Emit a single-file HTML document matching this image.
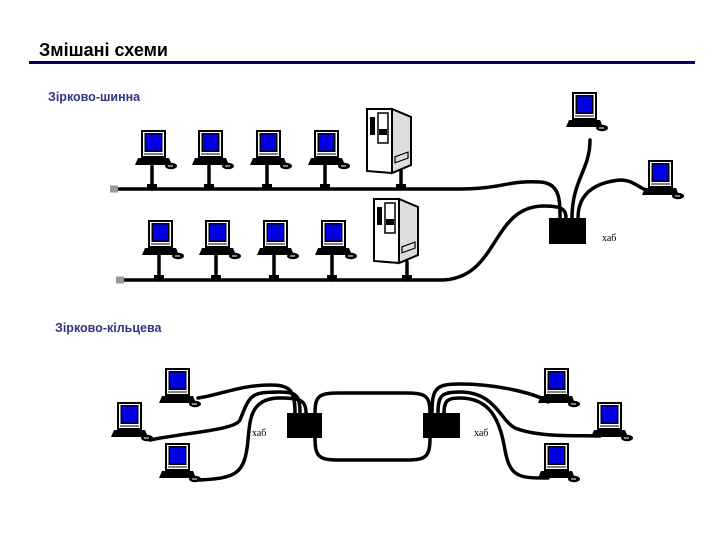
<!DOCTYPE html>
<html><head><meta charset="utf-8"><style>
body{margin:0;background:#fff}
svg{display:block}
</style></head><body>
<svg width="720" height="540" viewBox="0 0 720 540" xmlns="http://www.w3.org/2000/svg">
<defs>
<g id="pc">
<rect x="0" y="0" width="25" height="28" fill="#000"/>
<rect x="2" y="2" width="21" height="24" fill="#fff"/>
<rect x="3.5" y="3" width="18" height="19" fill="#000"/>
<rect x="5" y="4.5" width="15" height="16" fill="#0000e0"/>
<line x1="3" y1="24" x2="22" y2="24" stroke="#000" stroke-width="1"/>
<polygon points="-3,28 28,28 31,35 -6,35" fill="#000"/>
<ellipse cx="30" cy="36" rx="6" ry="3.2" fill="#000"/>
<path d="M27 36 h5" stroke="#fff" stroke-width="1"/>
</g>
<g id="srv">
<polygon points="0,0 25,0 44,8 44,56 25,64 0,62" fill="#fff" stroke="#000" stroke-width="2"/>
<polygon points="25,0 44,8 44,56 25,64" fill="#ddd" stroke="#000" stroke-width="2"/>
<rect x="3" y="8" width="5" height="18" fill="#000"/>
<rect x="11" y="4" width="10" height="30" fill="none" stroke="#000" stroke-width="1.5"/>
<rect x="12" y="20" width="8" height="6" fill="#000"/>
<rect x="28" y="46" width="13" height="6" fill="none" stroke="#000" stroke-width="1.2" transform="skewY(-20) translate(0,12)"/>
</g>
</defs>

<text x="39" y="56" font-family="Liberation Sans, sans-serif" font-size="18" font-weight="bold" fill="#000">Змішані схеми</text>
<rect x="29" y="61" width="666" height="3" fill="#000066"/>
<text x="48" y="101" font-family="Liberation Sans, sans-serif" font-size="12.5" font-weight="bold" fill="#333388">Зірково-шинна</text>
<text x="55" y="332" font-family="Liberation Sans, sans-serif" font-size="12.5" font-weight="bold" fill="#333388">Зірково-кільцева</text>

<g fill="none" stroke="#000" stroke-width="3.5" stroke-linecap="round">
<!-- bus 1 -->
<path d="M117 189 H460 C500 189 510 180 540 182 C560 183 560 200 560 218"/>
<path d="M122 280 H440 C500 280 490 205 545 206 C565 206 566 212 566 218"/>
<path d="M572 218 C572 180 590 170 590 140"/>
<path d="M578 218 C578 190 600 182 620 180 C635 180 640 190 652 192"/>
<!-- stems top -->
<path d="M152 166 V189 M209 166 V189 M267 166 V189 M325 166 V189 M401 170 V189"/>
<path d="M159 256 V280 M216 256 V280 M274 256 V280 M332 256 V280 M407 262 V280"/>
<!-- ring -->
<path d="M315 413 C315 395 320 393 340 393 H405 C425 393 430 395 430 413"/>
<path d="M315 438 C315 458 320 460 340 460 H405 C425 460 430 458 430 438"/>
<!-- hub1 cables -->
<path d="M295 413 C295 390 290 385 270 385 C240 385 220 395 198 398"/>
<path d="M300 413 C300 395 296 392 280 392 C250 392 250 395 240 420 C235 430 190 432 150 440"/>
<path d="M306 413 C306 400 300 398 280 398 C250 398 250 420 248 440 C245 475 235 478 200 480"/>
<!-- hub2 cables -->
<path d="M432 413 C432 388 436 384 460 384 C500 384 540 395 548 402"/>
<path d="M438 413 C438 395 442 392 460 392 C495 392 500 420 515 428 C540 438 580 435 600 436"/>
<path d="M444 413 C444 400 448 398 460 398 C490 398 500 420 505 450 C510 478 520 478 548 478"/>
</g>
<!-- terminators -->
<rect x="110" y="185.5" width="8" height="7" fill="#999"/>
<rect x="116" y="276.5" width="8" height="7" fill="#999"/>
<!-- feet -->
<g fill="#000">
<rect x="147" y="184" width="10" height="6"/><rect x="204" y="184" width="10" height="6"/><rect x="262" y="184" width="10" height="6"/><rect x="320" y="184" width="10" height="6"/><rect x="396" y="184" width="10" height="6"/>
<rect x="154" y="275" width="10" height="6"/><rect x="211" y="275" width="10" height="6"/><rect x="269" y="275" width="10" height="6"/><rect x="327" y="275" width="10" height="6"/><rect x="402" y="275" width="10" height="6"/>
<rect x="549" y="218" width="37" height="26"/>
<rect x="287" y="413" width="35" height="25"/>
<rect x="423" y="413" width="37" height="25"/>
</g>

<use href="#pc" x="141" y="130"/><use href="#pc" x="198" y="130"/><use href="#pc" x="256" y="130"/><use href="#pc" x="314" y="130"/>
<use href="#pc" x="148" y="220"/><use href="#pc" x="205" y="220"/><use href="#pc" x="263" y="220"/><use href="#pc" x="321" y="220"/>
<use href="#srv" x="367" y="109"/>
<use href="#srv" x="374" y="199"/>
<use href="#pc" x="572" y="92"/>
<use href="#pc" x="648" y="160"/>
<use href="#pc" x="165" y="368"/><use href="#pc" x="117" y="402"/><use href="#pc" x="165" y="443"/>
<use href="#pc" x="544" y="368"/><use href="#pc" x="597" y="402"/><use href="#pc" x="544" y="443"/>

<g font-family="Liberation Serif, serif" font-size="10" fill="#000">
<text x="602" y="241">хаб</text>
<text x="252" y="436">хаб</text>
<text x="474" y="436">хаб</text>
</g>
</svg>
</body></html>
